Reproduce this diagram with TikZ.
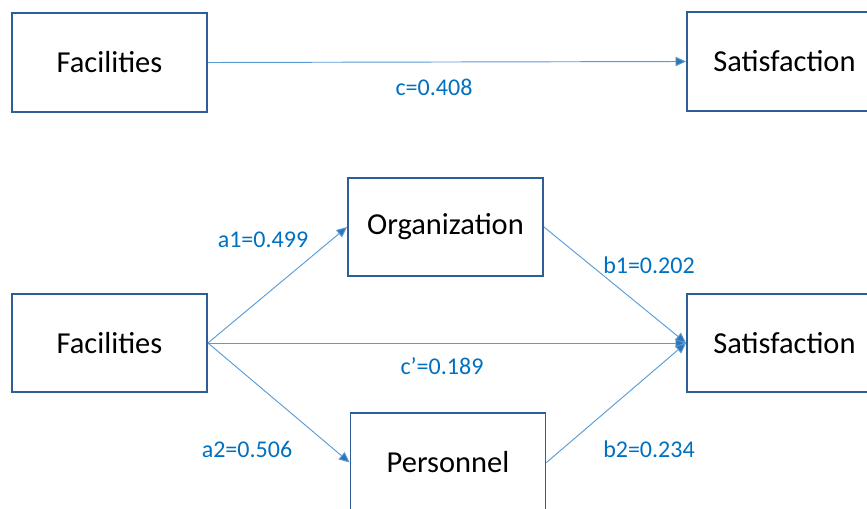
\documentclass[tikz,border=0pt]{standalone}
\usepackage{fontspec}
\setmainfont{Carlito}
\usetikzlibrary{arrows.meta}

\definecolor{boxblue}{RGB}{46,94,150}
\definecolor{lineblue}{RGB}{91,155,213}
\definecolor{tipblue}{RGB}{46,117,182}
\definecolor{labelblue}{RGB}{0,112,192}

\begin{document}
\begin{tikzpicture}[x=0.03cm, y=-0.03cm,
    box/.style={draw=boxblue, line width=1.6pt, minimum width=5.85cm, minimum height=2.95cm, font=\fontsize{26}{30}\selectfont},
    coef/.style={text=labelblue, font=\fontsize{20.5}{24}\selectfont},
    path/.style={-{Triangle[length=9pt, width=8pt, fill=tipblue]}, draw=lineblue, line width=0.8pt}]
            \useasboundingbox (0,0) rectangle (867,509);
            % Total effect
            \node[box] (fac1) at (109.5,62.5) {Facilities};
            \node[box] (sat1) at (784.5,61.5) {Satisfaction};
            \node[coef] (c) at (434,87) {c=0.408};
            
            % Mediation model
            \node[box] (fac2) at (109.5,343) {Facilities};
            \node[box] (org) at (445.5,227) {Organization};
            \node[box] (sat2) at (784.5,343) {Satisfaction};
            \node[box] (pers) at (448,462.5) {Personnel};
            \node[coef] (a1) at (263,240) {a1=0.499};
            \node[coef] (b1) at (649,265) {b1=0.202};
            \node[coef] (cp) at (442,366) {c’=0.189};
            \node[coef] (a2) at (247,449) {a2=0.506};
            \node[coef] (b2) at (649,449) {b2=0.234};
            
            % Paths
            \draw[path] (fac1.east) -- (sat1.west);
            \draw[path] (fac2.east) -- (org.west);
            \draw[path] (fac2.east) -- (sat2.west);
            \draw[path] (fac2.east) -- (pers.west);
            \draw[path] (org.east) -- (sat2.west);
            \draw[path] (pers.east) -- (sat2.west);
          \end{tikzpicture}
\end{document}
